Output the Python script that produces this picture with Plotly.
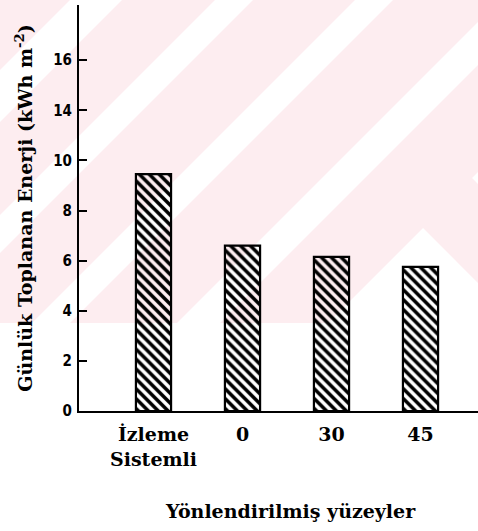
import plotly.graph_objects as go

# Daily collected energy for the tracking system and fixed orientations
categories = ["İzleme<br>Sistemli", "0", "30", "45"]
energy = [9.45, 6.6, 6.15, 5.75]

# y-axis ticks (printed labels as they appear on the axis)
tick_values = [0, 2, 4, 6, 8, 10, 12, 14]
tick_labels = ["0", "2", "4", "6", "8", "10", "14", "16"]

W, H = 478, 531
L, R, T, B = 79, 0, 5, 120
PW, PH = W - L - R, H - T - B


def to_paper(px, py):
    return (px - L) / PW, (H - B - py) / PH


def path(points):
    pts = [to_paper(x, y) for x, y in points]
    return "M " + " L ".join(f"{x:.4f},{y:.4f}" for x, y in pts) + " Z"


# faint pink background emblem made of diagonal bands
PINK = "#fdedf0"
shapes = [
    dict(type="path", xref="paper", yref="paper", layer="below",
         path=path([(0, 0), (478, 0), (478, 172), (472, 178), (478, 184),
                    (478, 283), (423, 228), (328, 323), (0, 323)]),
         fillcolor=PINK, line=dict(width=0)),
]
for a, b in [(70, 122), (215, 253), (355, 393), (500, 543)]:
    shapes.append(dict(
        type="path", xref="paper", yref="paper", layer="below",
        path=path([(a, 0), (b, 0), (b - 323, 323), (a - 323, 323)]),
        fillcolor="white", line=dict(width=0)))

serif_bold = dict(family="DejaVu Serif, Liberation Serif, serif", size=19,
                  color="black", weight="bold")

fig = go.Figure(go.Bar(
    x=categories,
    y=energy,
    width=0.395,
    marker=dict(
        color="black",
        line=dict(color="black", width=2.2),
        pattern=dict(shape="\\", size=7, solidity=0.5, fgcolor="black",
                     bgcolor="rgba(0,0,0,0)", fillmode="replace"),
    ),
    showlegend=False,
))

fig.update_layout(
    width=W, height=H,
    margin=dict(l=L, r=R, t=T, b=B),
    paper_bgcolor="white",
    plot_bgcolor="rgba(0,0,0,0)",
    shapes=shapes,
    xaxis=dict(
        type="category",
        range=[-0.837, 3.646],
        showline=True, linecolor="black", linewidth=2,
        ticks="", showgrid=False, zeroline=False,
        tickfont=serif_bold,
        ticklabelstandoff=5,
    ),
    yaxis=dict(
        range=[0, 16.2],
        showline=True, linecolor="black", linewidth=2,
        ticks="inside", ticklen=8, tickwidth=1.5, tickcolor="black",
        tickvals=tick_values, ticktext=tick_labels,
        tickfont=dict(family="DejaVu Sans Condensed, Liberation Sans Narrow, Liberation Sans, sans-serif",
                      size=15, color="black", weight="bold"),
        ticklabelstandoff=2,
        showgrid=False, zeroline=False,
        title=dict(text="Günlük Toplanan Enerji (kWh m<sup>-2</sup>)",
                   font=serif_bold, standoff=16),
    ),
    annotations=[dict(
        text="Yönlendirilmiş yüzeyler",
        xref="paper", yref="paper",
        x=(290 - L) / PW, y=(H - B - 511) / PH,
        xanchor="center", yanchor="middle",
        showarrow=False, font=serif_bold,
    )],
)

fig.write_html("out.html")
